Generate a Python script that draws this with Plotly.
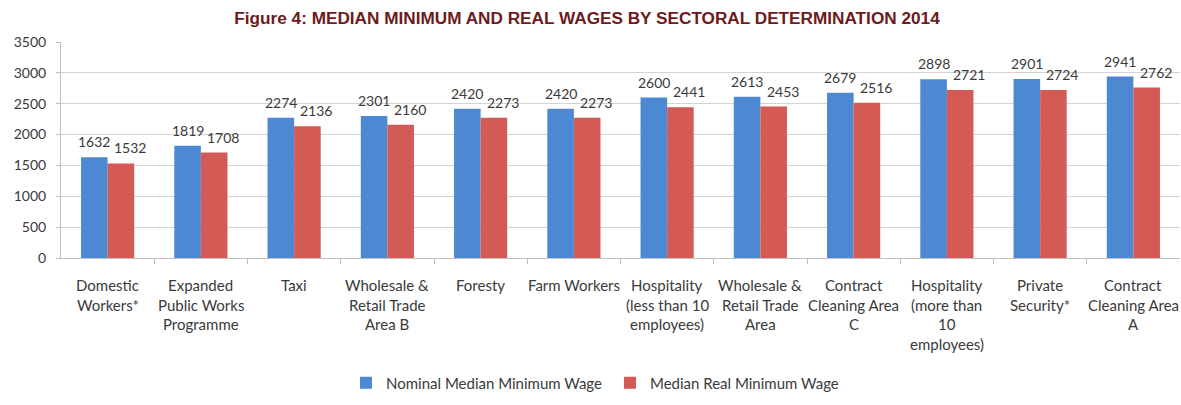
import plotly.graph_objects as go

# Sector labels (line breaks marked with "<br>")
categories = [
    "Domestic<br>Workers*",
    "Expanded<br>Public Works<br>Programme",
    "Taxi",
    "Wholesale &<br>Retail Trade<br>Area B",
    "Foresty",
    "Farm Workers",
    "Hospitality<br>(less than 10<br>employees)",
    "Wholesale &<br>Retail Trade<br>Area",
    "Contract<br>Cleaning Area<br>C",
    "Hospitality<br>(more than<br>10<br>employees)",
    "Private<br>Security*",
    "Contract<br>Cleaning Area<br>A",
]
nominal_wage = [1632, 1819, 2274, 2301, 2420, 2420, 2600, 2613, 2679, 2898, 2901, 2941]
real_wage = [1532, 1708, 2136, 2160, 2273, 2273, 2441, 2453, 2516, 2721, 2724, 2762]
y_ticks = [0, 500, 1000, 1500, 2000, 2500, 3000, 3500]

BLUE = "#4d88d2"
RED = "#d45a55"
TEXT = "#3a3a3a"
FONT = "Lato"

WIDTH, HEIGHT = 1181, 405
MARGIN = dict(l=61, r=1, t=42, b=147)
BARGAP = 0.43

fig = go.Figure()
fig.add_trace(go.Bar(
    x=list(range(len(categories))), y=nominal_wage,
    name="Nominal Median Minimum Wage",
    marker=dict(color=BLUE, line=dict(width=0)),
))
fig.add_trace(go.Bar(
    x=list(range(len(categories))), y=real_wage,
    name="Median Real Minimum Wage",
    marker=dict(color=RED, line=dict(width=0)),
))

# Value labels above each bar (half a bar width either side of the group centre)
slot_px = (WIDTH - MARGIN["l"] - MARGIN["r"]) / len(categories)
half_bar = slot_px * (1 - BARGAP) / 4
annotations = []
for series, shift in ((nominal_wage, -half_bar), (real_wage, half_bar + 9)):
    for idx, val in enumerate(series):
        annotations.append(dict(
            x=idx, y=val, xref="x", yref="y", xanchor="center", yanchor="bottom",
            xshift=shift, yshift=5, text=str(val), showarrow=False,
            font=dict(family=FONT, size=14, color=TEXT),
        ))

# Multi-line category labels under the axis, one annotation per line
for idx, cat in enumerate(categories):
    for i, line in enumerate(cat.split("<br>")):
        annotations.append(dict(
            x=idx, xref="x", y=0, yref="paper", yanchor="middle",
            yshift=-27 - 19.5 * i, text=line, showarrow=False,
            font=dict(family=FONT, size=15, color=TEXT),
        ))

fig.update_layout(
    width=WIDTH, height=HEIGHT,
    margin=MARGIN,
    paper_bgcolor="white", plot_bgcolor="white",
    barmode="group", bargap=BARGAP, bargroupgap=0,
    font=dict(family=FONT, size=14, color=TEXT),
    title=dict(
        text="Figure 4: MEDIAN MINIMUM AND REAL WAGES BY SECTORAL DETERMINATION 2014",
        x=587 / WIDTH, xref="container", xanchor="center",
        y=0.955, yref="container", yanchor="middle",
        font=dict(family="Liberation Sans", size=17.2, color="#6e1a1c", weight="bold"),
    ),
    xaxis=dict(
        type="linear", range=[-0.5, len(categories) - 0.5], showticklabels=False,
        tickvals=[i + 0.5 for i in range(len(categories) - 1)],
        ticks="outside", ticklen=5, tickcolor="#bfbfbf",
        showline=True, linecolor="#bfbfbf", linewidth=1, showgrid=False,
        zeroline=False,
    ),
    yaxis=dict(
        range=[0, 3500], tickvals=y_ticks, ticks="outside", ticklen=4,
        tickcolor="#bfbfbf", showline=True, linecolor="#bfbfbf", linewidth=1,
        gridcolor="#d4d4d4", gridwidth=1, zeroline=False,
        tickfont=dict(family=FONT, size=14, color=TEXT), ticklabelstandoff=7,
    ),
    legend=dict(
        orientation="h", x=0.2547, xanchor="left", y=-0.579, yanchor="middle",
        entrywidth=219, entrywidthmode="pixels",
        font=dict(family=FONT, size=15, color=TEXT), bgcolor="rgba(0,0,0,0)",
    ),
    annotations=annotations,
)

fig.write_html("out.html")
